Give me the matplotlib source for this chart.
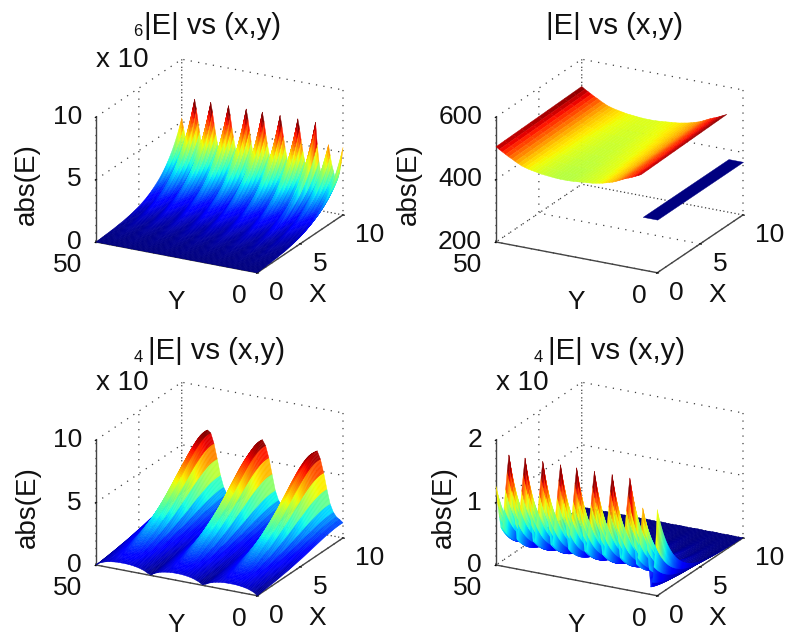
"""
Four |E| vs (x,y) surfaces in a 2x2 MATLAB style layout.
"""

import numpy as np
import matplotlib
matplotlib.use("Agg")
import matplotlib.pyplot as plt
from matplotlib.colors import Normalize
from mpl_toolkits.mplot3d import proj3d

W_PX, H_PX = 787, 636
plt.rcParams["font.family"] = ["Liberation Sans", "DejaVu Sans"]
plt.rcParams["grid.color"] = "#404040"
plt.rcParams["grid.linestyle"] = (0, (1, 5))
plt.rcParams["grid.linewidth"] = 0.9

X_TICKS = [0, 5, 10]
Y_TICKS = [0, 50]
Z_TICKS_A = [0, 5, 10]
Z_TICKS_B = [200, 400, 600]
Z_TICKS_D = [0, 1, 2]

# panel A: rise along X (listed from X = 10 down to X = 0), ridge heights at X = 10 (Y = 0..50)
A_X = [1.0, .946, .895, .846, .801, .758, .717, .678, .641,
       .606, .574, .543, .513, .486, .459, .434, .411,
       .389, .368, .348, .329, .311, .295, .279, .264,
       .249, .235, .222, .209, .197, .186, .176, .166,
       .156, .147, .139, .131, .123, .116, .109, .103,
       .097, .091, .086, .081, .076, .071, .067, .063,
       .059, .056, .052, .049, .046, .043, .040, .038,
       .035, .033, .031, .029, .027, .025, .023, .021,
       .0195, .018, .0165, .015, .0135, .0122, .0110, .0098,
       .0085, .0072, .0060, .0048, .0036, .0024, .0012, 0]
A_Y = [5.4, 4.2, 3.4, 2.9, 2.7, 2.9, 3.4, 3.9, 4.6, 5.4,
       4.5, 3.6, 3.0, 2.8, 3.2, 4.0, 5.3, 7.0,
       6.3, 5.4, 4.6, 3.9, 3.3, 3.3, 3.9, 4.6, 5.4, 6.3, 7.0,
       6.3, 5.4, 4.6, 3.9, 3.3, 3.3, 3.9, 4.6, 5.4, 6.3, 7.0,
       6.3, 5.4, 4.6, 3.9, 3.3, 3.3, 3.9, 4.6, 5.4, 6.3, 7.0,
       6.3, 5.4, 4.5, 3.7, 3.2, 3.7, 4.5, 5.4, 6.3, 7.0,
       6.3, 5.4, 4.6, 3.9, 3.3, 3.3, 3.9, 4.6, 5.4, 6.3, 7.0,
       6.3, 5.4, 4.6, 3.9, 3.3, 3.3, 3.9, 4.6, 5.4, 6.3, 7.0,
       6.3, 5.4, 4.5, 3.7, 3.2, 3.7, 4.5, 5.4, 6.3, 7.0,
       6.2, 5.2, 4.2, 3.4, 3.4, 4.0, 4.6, 5.3]

# panel B: bowl for Y = 5..50, slow rise along X, flat strip for Y = 0..4.5
B_BOWL_Y = np.arange(5, 51)
B_BOWL = [504, 499, 494, 489, 485, 481, 476, 471, 466, 462, 459, 456, 453, 451, 449, 447,
          446, 445, 444, 443, 442, 441, 440.5, 440, 440, 440, 440.5, 441, 442, 443, 444,
          445, 447, 449, 451, 453, 456, 459, 464, 469, 475, 480, 486, 492, 498, 505]
B_RISE = [0, .8, 1.6, 2.4, 3.2, 4, 4.8, 5.6, 6.4, 7.2, 8]
B_STRIP_Y = [0, 4.5]
B_STRIP_X = [0, 10]
B_STRIP = [[370, 370], [370, 370]]

# panel C: base arcs at X = 0 plus three ridges that grow along X
C_X = [0, .0070, .0142, .0216, .0292, .0370, .0450, .0532, .0616, .0702, .0790, .0880,
       .0972, .1066, .1162, .1260, .1360, .1462, .1566, .1672, .1780, .1890, .2002, .2116,
       .2232, .2350, .2470, .2592, .2716, .2842, .2970, .3100, .3233, .3369, .3508, .3650,
       .3795, .3943, .4094, .4248, .4405, .4565, .4728, .4894, .5063, .5235, .5410, .5588,
       .5768, .5950, .6134, .6319, .6504, .6689, .6873, .7056, .7237, .7416, .7593, .7767,
       .7938, .8105, .8268, .8426, .8579, .8726, .8867, .9001, .9128, .9247, .9358, .9460,
       .9548, .9622, .9682, .9727, .9757, .9772, .9772, .9757, .9727]
C_ARC = [0, .2, .31, .4, .46, .5, .53, .55, .55, .55, .54, .52, .48, .43, .36, .27, .13,
         .03, .2, .31, .4, .46, .5, .53, .55, .55, .55, .53, .5, .46, .4, .31, .2, .03, .13,
         .27, .36, .43, .48, .52, .54, .55, .55, .55, .53, .5, .46, .4, .31, .2, 0]
C_RIDGE = [1.25, 1.25, 1.3, 1.56, 2.13, 3.25, 4.5, 5.56, 6.19, 6, 5.19, 4, 2.75, 1.88, 1.44,
           1.25, 1.25, 1.25, 1.25, 1.38, 1.69, 2.38, 3.63, 4.88, 5.81, 6.25, 5.81, 4.88, 3.63,
           2.38, 1.69, 1.38, 1.25, 1.25, 1.25, 1.25, 1.44, 1.88, 2.75, 4, 5.19, 6, 6.19, 5.56,
           4.5, 3.25, 2.13, 1.56, 1.3, 1.25, 1.25]

# panel D: decay along X and ridge heights at X = 0
D_X = [1, .933, .870, .812, .758, .707, .660, .616, .574, .536, .500, .466, .435, .406, .379,
       .353, .330, .308, .287, .268, .250, .233, .218, .203, .189, .177, .165, .154, .143,
       .134, .125, .116, .109, .101, .094, .088, .082, .077, .071, .067, .062, .058, .054,
       .051, .047, .044, .041, .038, .036, .033, .031, .029, .027, .025, .024, .022, .021,
       .019, .018, .017, .016, .0148, .0138, .0128, .012, .011, .0102, .0095, .009, .0084,
       .0078, .0072, .0068, .0063, .0059, .0055, .0051, .0048, .0044, .0041, .0039]
D_Y = [1.38, .8, .45, .2, .12, .4, .7, .95, 1.15, 1.36,
       1.05, .8, .55, .45, .72, .98, 1.27, 1.8,
       1.55, 1.28, 1.0, .75, .5, .5, .75, 1.0, 1.28, 1.55, 1.8,
       1.55, 1.28, 1.0, .75, .5, .5, .75, 1.0, 1.28, 1.55, 1.8,
       1.55, 1.28, 1.0, .75, .5, .5, .75, 1.0, 1.28, 1.55, 1.8,
       1.55, 1.27, .98, .72, .48, .72, .98, 1.27, 1.55, 1.8,
       1.55, 1.28, 1.0, .75, .5, .5, .75, 1.0, 1.28, 1.55, 1.8,
       1.55, 1.28, 1.0, .75, .5, .5, .75, 1.0, 1.28, 1.55, 1.8,
       1.55, 1.27, .98, .72, .48, .72, .98, 1.27, 1.55, 1.8,
       1.55, 1.25, .95, .62, .62, .8, 1.0, 1.26]

FONT = 19
fig = plt.figure(figsize=(W_PX / 100, H_PX / 100), dpi=100)


def corner_px(ax, x, y, z):
    xp, yp, _ = proj3d.proj_transform(x, y, z, ax.get_proj())
    return ax.transData.transform((xp, yp))


def place(ax, ox, oy, zmin):
    # scale and shift the axes so the X=0, Y=50 floor corner lands on (ox, oy)
    side = 400
    ax.set_position([0, 0, side / W_PX, side / H_PX])
    ax.apply_aspect()
    a = corner_px(ax, 0, 50, zmin)
    b = corner_px(ax, 10, 0, zmin)
    side = side * 247 / (b[0] - a[0])
    ax.set_position([0, 0, side / W_PX, side / H_PX])
    ax.apply_aspect()
    a = corner_px(ax, 0, 50, zmin)
    ax.set_position([(ox - a[0]) / W_PX, (H_PX - oy - a[1]) / H_PX,
                     side / W_PX, side / H_PX])


def px_text(x, y, s, **kw):
    kw.setdefault("fontsize", FONT)
    kw.setdefault("ha", "center")
    kw.setdefault("va", "center")
    return fig.text(x / W_PX, 1 - y / H_PX, s, color="#111111", **kw)


def make_panel(ox, oy, zticks, exponent, ylabel_dx, title_dx, title_dy):
    ax = fig.add_axes([0, 0, 1, 1], projection="3d", proj_type="ortho")
    ax.patch.set_visible(False)
    ax.view_init(elev=21, azim=208)
    ax.set_box_aspect((1, 1, 0.733))
    ax.set_xlim(0, 10, view_margin=0)
    ax.set_ylim(0, 50, view_margin=0)
    ax.set_zlim(zticks[0], zticks[-1], view_margin=0)
    ax.set_xticks(X_TICKS)
    ax.set_yticks(Y_TICKS)
    ax.set_zticks(zticks)
    ax.set_xticklabels([])
    ax.set_yticklabels([])
    ax.set_zticklabels([])
    for axis in (ax.xaxis, ax.yaxis, ax.zaxis):
        axis.set_pane_color((1, 1, 1, 0))
        axis.pane.set_edgecolor((1, 1, 1, 0))
        axis.line.set_color("#444444")
        axis.line.set_linewidth(1.0)
        axis._axinfo["tick"]["inward_factor"] = 0.1
        axis._axinfo["tick"]["outward_factor"] = 0.0
    ax.zaxis.set_ticks_position("upper")

    # tick and axis labels, offsets from the floor corner
    for t, yy in zip(zticks, (oy, oy - 62.5, oy - 125)):
        px_text(ox - 14, yy, str(t), ha="right")
    px_text(ox - 28, oy + 23, "50")
    px_text(ox + 143, oy + 54, "0")
    px_text(ox + 180, oy + 51, "0")
    px_text(ox + 224, oy + 22, "5")
    px_text(ox + 274, oy - 7, "10")
    px_text(ox + 221, oy + 53, "X")
    px_text(ox + 80, oy + 60, "Y")
    px_text(ox + ylabel_dx, oy - 58, "abs(E)", rotation=90, fontsize=20)
    px_text(ox + title_dx, oy + title_dy, "|E| vs (x,y)", fontsize=21)
    if exponent:
        px_text(ox + 26, oy - 182, "x 10", fontsize=20)
        px_text(ox + 42, oy + title_dy + 6, exponent, fontsize=12)
    place(ax, ox, oy, zticks[0])
    return ax


def surface(ax, x, y, z, vmax, vmin=0):
    xx, yy = np.meshgrid(x, y, indexing="ij")
    z = np.asarray(z, dtype=float)
    # colour each cell by its mean height, edges in the same colour to hide seams
    cell = (z[:-1, :-1] + z[1:, :-1] + z[:-1, 1:] + z[1:, 1:]) / 4
    colors = np.zeros(z.shape + (4,))
    colors[:-1, :-1] = plt.get_cmap("jet")(Normalize(vmin, vmax)(cell))
    ax.plot_surface(xx, yy, z, facecolors=colors, rstride=1, cstride=1,
                    linewidth=0.3, antialiased=True, shade=False)


# panel A
ax = make_panel(96, 242, Z_TICKS_A, "6", -69, 117, -216)
surface(ax, np.linspace(0, 10, len(A_X)), np.linspace(0, 50, len(A_Y)),
        np.outer(A_X[::-1], A_Y), 6.5)

# panel B
ax = make_panel(496, 242, Z_TICKS_B, "", -87, 118, -216)
surface(ax, np.linspace(0, 10, len(B_RISE)), B_BOWL_Y,
        np.add.outer(B_RISE, B_BOWL), 512, vmin=345)
surface(ax, B_STRIP_X, B_STRIP_Y, B_STRIP, 520, vmin=370)

# panel C
ax = make_panel(96, 565, Z_TICKS_A, "4", -68, 121, -214)
surface(ax, np.linspace(0, 10, len(C_X)), np.linspace(0, 50, len(C_ARC)),
        np.outer(C_X, C_RIDGE) + np.array(C_ARC), 6.55)

# panel D
ax = make_panel(496, 565, Z_TICKS_D, "4", -52, 121, -214)
surface(ax, np.linspace(0, 10, len(D_X)), np.linspace(0, 50, len(D_Y)),
        np.outer(D_X, D_Y), 1.65)

fig.savefig("out.png", dpi=100)
